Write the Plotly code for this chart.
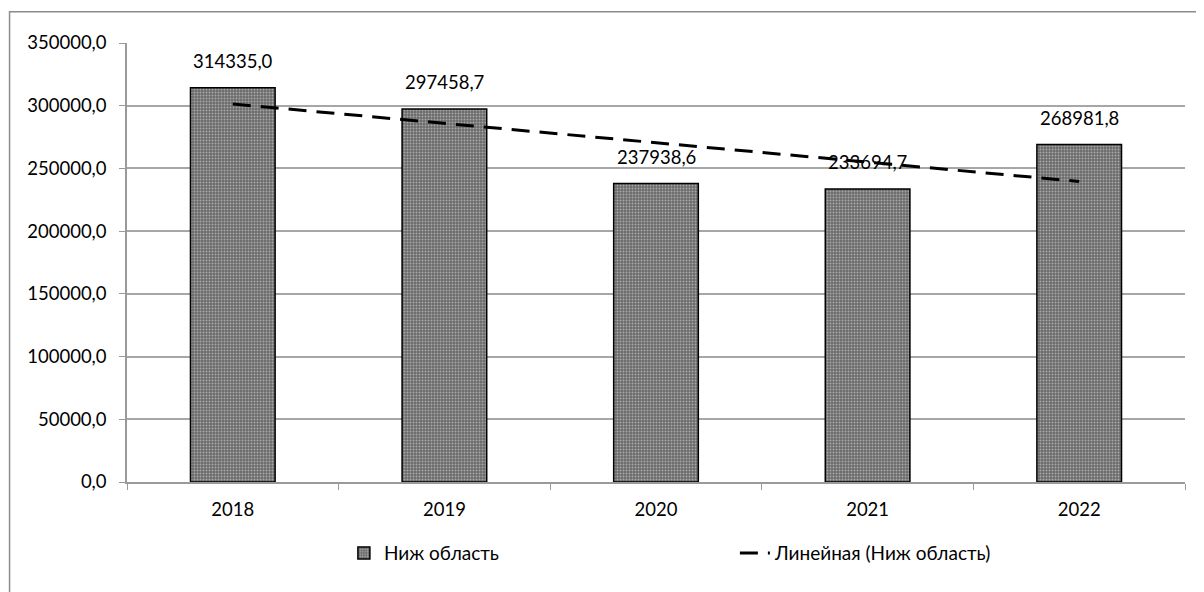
import numpy as np
import plotly.graph_objects as go

years = ["2018", "2019", "2020", "2021", "2022"]
values = [314335.0, 297458.7, 237938.6, 233694.7, 268981.8]
series_name = "Ниж область"
trend_name = "Линейная (Ниж область)"
y_ticks = [0, 50000, 100000, 150000, 200000, 250000, 300000, 350000]

FONT = "Lato"

# linear trend over the category index, same as Excel's trendline
idx = np.arange(len(values))
slope, intercept = np.polyfit(idx, values, 1)
trend = (slope * idx + intercept).tolist()

fig = go.Figure()

fig.add_trace(go.Bar(
    x=years,
    y=values,
    name=series_name,
    width=0.4,
    marker=dict(
        color="#8a8a8a",
        line=dict(color="black", width=1.5),
        pattern=dict(shape=".", fgcolor="#e6e6e6", bgcolor="#6a6a6a", size=3, solidity=0.35),
    ),
))

fig.add_trace(go.Scatter(
    x=years,
    y=trend,
    name=trend_name,
    mode="lines",
    line=dict(color="black", width=3, dash="18px,10px"),
))

# data labels; x given as category index so "2018" is not read as a number
for i, v in enumerate(values):
    fig.add_annotation(
        x=i, y=v,
        text=f"{v:.1f}".replace(".", ","),
        showarrow=False,
        yanchor="bottom",
        yshift=14,
        font=dict(family=FONT, size=18.5, color="black"),
    )

# outer chart border (runs off the right and bottom of the picture)
fig.add_shape(
    type="rect", xref="paper", yref="paper",
    x0=-0.111, x1=1.04, y0=-0.3, y1=1.071,
    line=dict(color="#8c8c8c", width=1.5),
    layer="below",
)

fig.update_layout(
    width=1204,
    height=592,
    margin=dict(l=119, r=27, t=35, b=118),
    paper_bgcolor="white",
    plot_bgcolor="white",
    separators=",.",
    font=dict(family=FONT, size=18.5, color="black"),
    showlegend=True,
    legend=dict(
        orientation="h",
        x=0.205, xanchor="left",
        y=-0.162, yanchor="middle",
        entrywidth=346,
        font=dict(family=FONT, size=19, color="black"),
    ),
    xaxis=dict(
        type="category",
        range=[-0.5, len(years) - 0.5],
        showline=True,
        linecolor="#9a9a9a",
        linewidth=1.5,
        ticks="outside",
        tickson="boundaries",
        ticklen=6,
        tickcolor="#9a9a9a",
        showgrid=False,
        ticklabelstandoff=10,
    ),
    yaxis=dict(
        range=[0, 350000],
        tickvals=y_ticks,
        tickformat=".1f",
        showline=True,
        linecolor="#9a9a9a",
        linewidth=1.5,
        ticks="outside",
        ticklen=6,
        tickcolor="#9a9a9a",
        gridcolor="#a6a6a6",
        gridwidth=1.5,
        zeroline=False,
        ticklabelstandoff=9,
    ),
)

fig.write_html("out.html")
